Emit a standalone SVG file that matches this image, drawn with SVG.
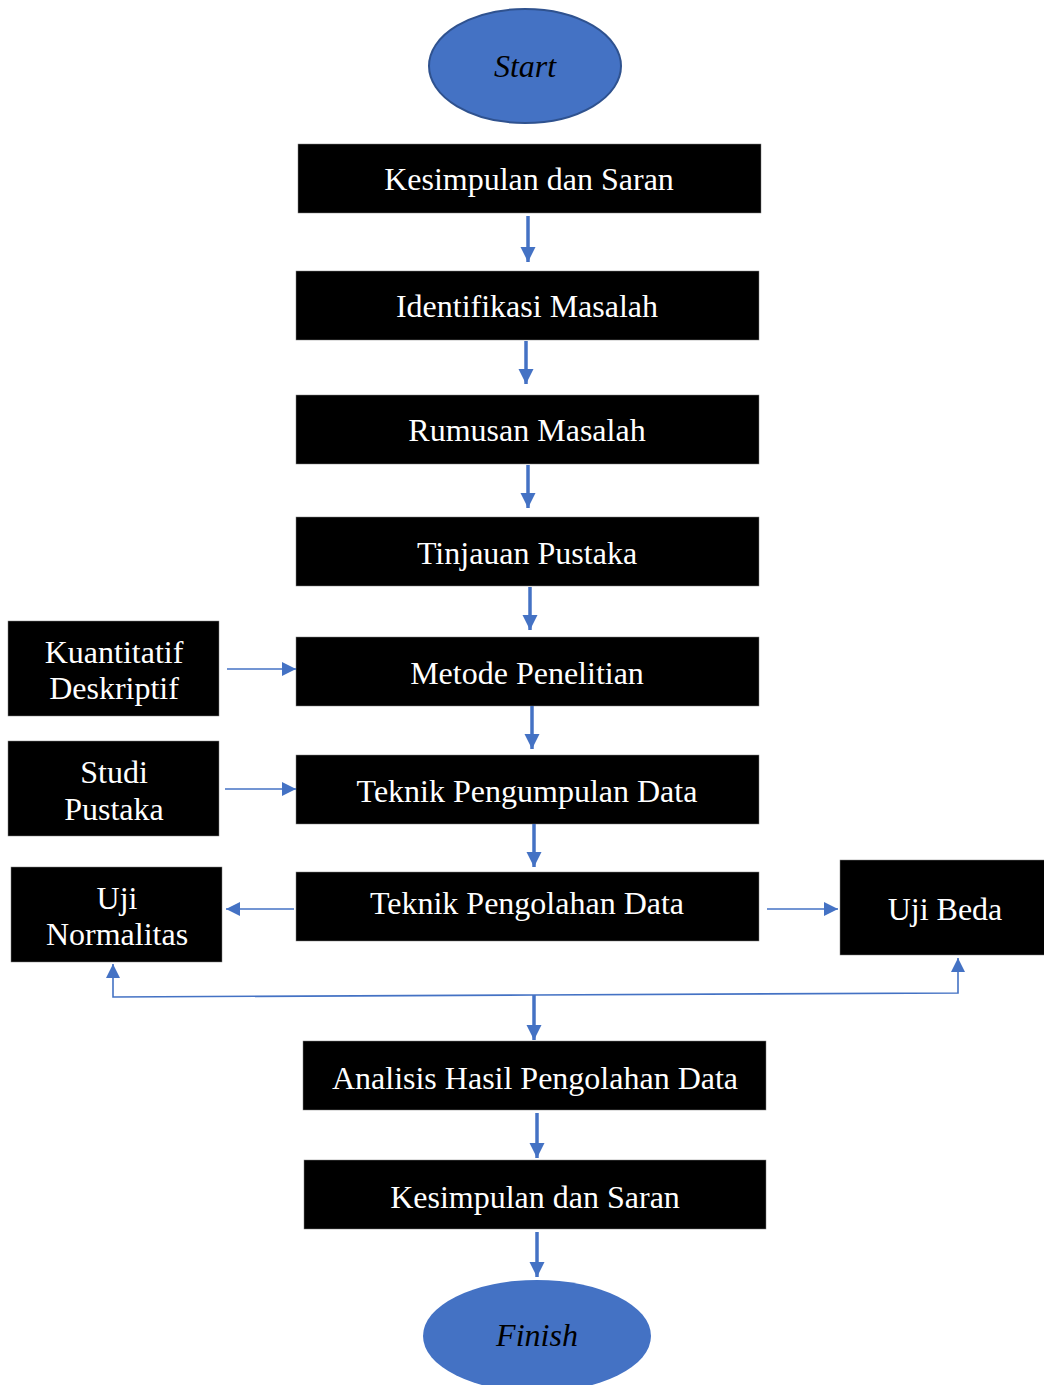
<svg xmlns="http://www.w3.org/2000/svg" width="1044" height="1385" viewBox="0 0 1044 1385">
<style>
.box{fill:#000;stroke:#7f7f7f;stroke-width:0.5}
.t{font-family:"Liberation Serif","Times New Roman",serif;font-size:32px;fill:#fff;text-anchor:middle}
.e{fill:#4472C4;stroke:#2F528F;stroke-width:2}
.et{font-family:"Liberation Serif","Times New Roman",serif;font-size:32px;font-style:italic;fill:#000;text-anchor:middle}
.thick{stroke:#4472C4;stroke-width:3.5;fill:none}
.thin{stroke:#4472C4;stroke-width:1.6;fill:none}
</style>
<defs>
<marker id="ah" viewBox="0 0 10 10" refX="10" refY="5" markerWidth="4.4" markerHeight="4.4" markerUnits="strokeWidth" orient="auto"><path d="M0,0 L10,5 L0,10 z" fill="#4472C4"/></marker>
<marker id="ah2" viewBox="0 0 10 10" refX="10" refY="5" markerWidth="9" markerHeight="9" markerUnits="strokeWidth" orient="auto"><path d="M0,0 L10,5 L0,10 z" fill="#4472C4"/></marker>
</defs>
<g id="start"><ellipse class="e" cx="525" cy="66" rx="96" ry="57"/><text class="et" x="525" y="77">Start</text></g>
<g id="n1"><rect class="box" x="298" y="144" width="463" height="69"/><text class="t" x="529" y="190">Kesimpulan dan Saran</text></g>
<g id="n2"><rect class="box" x="296" y="271" width="463" height="69"/><text class="t" x="527" y="317">Identifikasi Masalah</text></g>
<g id="n3"><rect class="box" x="296" y="395" width="463" height="69"/><text class="t" x="527" y="441">Rumusan Masalah</text></g>
<g id="n4"><rect class="box" x="296" y="517" width="463" height="69"/><text class="t" x="527" y="564">Tinjauan Pustaka</text></g>
<g id="n5"><rect class="box" x="296" y="637" width="463" height="69"/><text class="t" x="527" y="684">Metode Penelitian</text></g>
<g id="n6"><rect class="box" x="296" y="755" width="463" height="69"/><text class="t" x="527" y="802">Teknik Pengumpulan Data</text></g>
<g id="n7"><rect class="box" x="296" y="872" width="463" height="69"/><text class="t" x="527" y="914">Teknik Pengolahan Data</text></g>
<g id="n8"><rect class="box" x="303" y="1041" width="463" height="69"/><text class="t" x="535" y="1089">Analisis Hasil Pengolahan Data</text></g>
<g id="n9"><rect class="box" x="304" y="1160" width="462" height="69"/><text class="t" x="535" y="1208">Kesimpulan dan Saran</text></g>
<g id="kuantitatif"><rect class="box" x="8" y="621" width="211" height="95"/><text class="t" x="114" y="663">Kuantitatif</text><text class="t" x="114" y="699">Deskriptif</text></g>
<g id="studi"><rect class="box" x="8" y="741" width="211" height="95"/><text class="t" x="114" y="783">Studi</text><text class="t" x="114" y="820">Pustaka</text></g>
<g id="normalitas"><rect class="box" x="11" y="867" width="211" height="95"/><text class="t" x="117" y="909">Uji</text><text class="t" x="117" y="945">Normalitas</text></g>
<g id="beda"><rect class="box" x="840" y="860" width="206" height="95"/><text class="t" x="945" y="920">Uji Beda</text></g>
<g id="finish"><ellipse cx="537" cy="1336" rx="114" ry="56" fill="#4472C4"/><text class="et" x="537" y="1346">Finish</text></g>
<g id="connectors">
<line class="thick" x1="528" y1="216" x2="528" y2="262" marker-end="url(#ah)"/>
<line class="thick" x1="526" y1="341" x2="526" y2="384" marker-end="url(#ah)"/>
<line class="thick" x1="528" y1="465" x2="528" y2="508" marker-end="url(#ah)"/>
<line class="thick" x1="530" y1="587" x2="530" y2="630" marker-end="url(#ah)"/>
<line class="thick" x1="532" y1="706" x2="532" y2="749" marker-end="url(#ah)"/>
<line class="thick" x1="534" y1="824" x2="534" y2="867" marker-end="url(#ah)"/>
<line class="thick" x1="534" y1="995" x2="534" y2="1040" marker-end="url(#ah)"/>
<line class="thick" x1="537" y1="1113" x2="537" y2="1158" marker-end="url(#ah)"/>
<line class="thick" x1="537" y1="1232" x2="537" y2="1277" marker-end="url(#ah)"/>
<line class="thin" x1="227" y1="669" x2="296" y2="669" marker-end="url(#ah2)"/>
<line class="thin" x1="225" y1="789" x2="296" y2="789" marker-end="url(#ah2)"/>
<line class="thin" x1="294" y1="909" x2="226" y2="909" marker-end="url(#ah2)"/>
<line class="thin" x1="767" y1="909" x2="838" y2="909" marker-end="url(#ah2)"/>
<polyline class="thin" points="534,995 113,997 113,964" marker-end="url(#ah2)"/>
<polyline class="thin" points="534,995 958,993 958,958" marker-end="url(#ah2)"/>
</g>
</svg>
